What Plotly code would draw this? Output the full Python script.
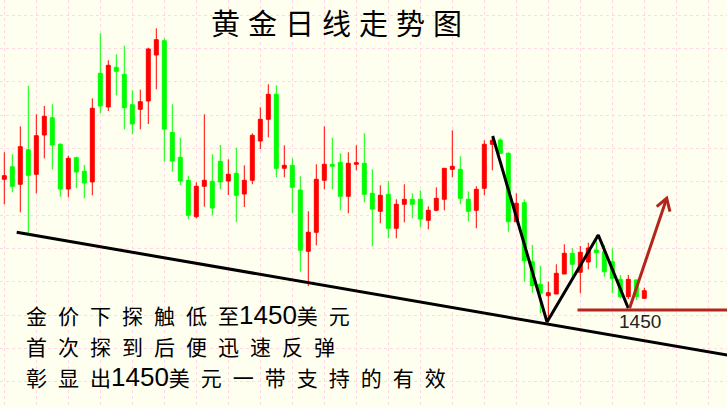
import plotly.graph_objects as go

# ---- candle data (price units), one candle per trading day ----
opens = [1580.7, 1593.3, 1575.7, 1610.3, 1585.7, 1625.0, 1642.3, 1615.7, 1571.0, 1602.3,
         1588.7, 1578.0, 1686.7, 1653.0, 1692.7, 1685.7, 1655.3, 1650.7, 1659.0, 1705.0,
         1719.3, 1627.7, 1602.7, 1579.7, 1543.3, 1573.7, 1578.7, 1598.7, 1579.0, 1586.7,
         1566.0, 1579.7, 1619.0, 1640.7, 1665.7, 1591.7, 1594.7, 1570.0, 1508.7, 1527.7,
         1579.7, 1595.7, 1597.7, 1563.7, 1595.7, 1596.7, 1566.7, 1548.7, 1565.7, 1531.7,
         1555.7, 1560.7, 1560.7, 1539.7, 1549.7, 1560.7, 1590.7, 1590.7, 1560.7, 1549.7,
         1571.7, 1615.7, 1620.0, 1606.7, 1538.3, 1557.3, 1498.3, 1475.7, 1464.3, 1466.0,
         1486.0, 1506.7, 1487.7, 1498.0, 1510.0, 1508.3, 1498.3, 1480.7, 1463.3, 1480.0,
         1461.7]
highs = [1607.7, 1605.7, 1633.7, 1674.3, 1645.7, 1654.0, 1655.7, 1616.7, 1604.3, 1603.3,
         1595.0, 1661.7, 1726.7, 1699.7, 1705.7, 1714.3, 1669.7, 1670.3, 1712.3, 1731.7,
         1721.7, 1655.7, 1622.3, 1584.3, 1577.7, 1645.7, 1605.7, 1615.0, 1600.7, 1612.3,
         1594.7, 1626.7, 1652.7, 1675.7, 1674.7, 1614.7, 1601.7, 1583.7, 1548.7, 1595.7,
         1633.7, 1622.3, 1606.7, 1607.7, 1614.7, 1626.7, 1590.7, 1574.7, 1578.7, 1560.7,
         1575.7, 1566.7, 1569.7, 1553.7, 1572.7, 1591.7, 1629.7, 1603.7, 1568.7, 1573.7,
         1619.7, 1622.7, 1621.7, 1607.7, 1566.7, 1560.7, 1515.0, 1494.3, 1478.3, 1495.7,
         1515.7, 1511.7, 1514.0, 1517.3, 1525.0, 1515.0, 1511.7, 1485.0, 1485.0, 1480.7,
         1472.3]
lows = [1555.7, 1567.7, 1547.7, 1526.7, 1566.7, 1601.7, 1590.7, 1563.3, 1562.7, 1571.7,
        1561.7, 1564.7, 1646.7, 1649.0, 1664.7, 1630.7, 1626.0, 1630.7, 1636.0, 1670.7,
        1598.3, 1588.3, 1575.0, 1540.7, 1541.7, 1553.3, 1544.7, 1571.0, 1565.0, 1538.0,
        1553.0, 1575.7, 1611.0, 1622.7, 1582.7, 1582.7, 1546.7, 1488.3, 1474.0, 1514.7,
        1570.7, 1570.7, 1549.7, 1546.7, 1589.7, 1557.7, 1513.7, 1536.7, 1521.7, 1521.7,
        1537.7, 1541.7, 1532.7, 1530.7, 1548.7, 1549.7, 1582.7, 1555.7, 1538.7, 1531.7,
        1564.7, 1589.7, 1606.0, 1528.3, 1538.3, 1478.3, 1467.3, 1446.7, 1441.7, 1466.7,
        1486.7, 1483.3, 1466.7, 1490.7, 1491.7, 1483.3, 1466.7, 1461.7, 1461.0, 1460.0,
        1461.0]
closes = [1584.3, 1573.7, 1613.3, 1584.7, 1624.3, 1643.7, 1615.0, 1571.0, 1601.7, 1588.0,
          1577.0, 1651.7, 1654.0, 1694.7, 1688.7, 1652.3, 1636.0, 1658.3, 1711.0, 1720.3,
          1631.0, 1599.0, 1579.0, 1544.7, 1573.7, 1579.7, 1552.0, 1578.0, 1585.7, 1564.7,
          1579.7, 1624.7, 1640.7, 1665.7, 1591.7, 1594.7, 1572.7, 1509.7, 1527.7, 1580.7,
          1595.7, 1593.7, 1563.7, 1596.7, 1597.3, 1565.7, 1551.0, 1564.7, 1531.7, 1555.7,
          1560.7, 1555.7, 1541.0, 1549.7, 1561.7, 1591.7, 1593.7, 1561.7, 1548.7, 1570.7,
          1615.7, 1619.7, 1606.7, 1538.3, 1556.7, 1499.3, 1474.3, 1466.7, 1467.3, 1486.7,
          1506.7, 1495.7, 1507.7, 1512.0, 1507.3, 1488.3, 1481.7, 1463.3, 1480.7, 1463.3,
          1469.3]
days = list(range(len(opens)))

# ---- hand-drawn analysis lines (day index, price) ----
trend_x = [1.55, 90.5]
trend_y = [1527.7, 1404.8]
zigzag_x = [61.05, 67.84, 74.25, 78.0]
zigzag_y = [1624.0, 1438.0, 1525.0, 1451.7]
support_x = [71.65, 91.0]
support_y = [1450.0, 1450.0]
arrow_x = [78.16, 82.8]
arrow_y = [1451.7, 1561.7]
arrowhead_x = [81.55, 82.8, 83.21]
arrowhead_y = [1553.3, 1561.7, 1548.3]
support_label = "1450"
support_label_pos = (79.46, 1438.3)

title_text = "黄金日线走势图"
# each note line: (spaced CJK, plain CJK, digits, spaced CJK, plain CJK)
note_lines = [
    ("金价下探触低", "至", "1450", "美", "元"),
    ("首次探到后便迅速反", "弹", "", "", ""),
    ("彰显", "出", "1450", "美元一带支持的有", "效"),
]
note_y = [0.2279, 0.152, 0.0760]

BG = "#FFFFF0"
GRID = "#FFD9E4"
UP = "#FF0000"
DOWN = "#00FF00"
DARKRED = "#B3261E"

fig = go.Figure()
fig.add_trace(go.Candlestick(
    x=days, open=opens, high=highs, low=lows, close=closes,
    increasing=dict(line=dict(color=UP, width=1), fillcolor=UP),
    decreasing=dict(line=dict(color=DOWN, width=1), fillcolor=DOWN),
    showlegend=False, hoverinfo="skip",
))
for xs, ys, col in [(trend_x, trend_y, "black"), (zigzag_x, zigzag_y, "black"),
                    (support_x, support_y, DARKRED), (arrow_x, arrow_y, DARKRED),
                    (arrowhead_x, arrowhead_y, DARKRED)]:
    fig.add_trace(go.Scatter(x=xs, y=ys, mode="lines", line=dict(color=col, width=3),
                             showlegend=False, hoverinfo="skip"))

CJK = "Noto Sans CJK SC"
SP = '<span style="letter-spacing:11px">{}</span>'
DIG = '<span style="font-family:Liberation Sans;font-size:26px">{}</span>'


def build_note(parts):
    spaced1, plain1, digits, spaced2, plain2 = parts
    s = ""
    if spaced1:
        s += SP.format(spaced1)
    s += plain1
    if digits:
        s += DIG.format(digits)
    if spaced2:
        s += SP.format(spaced2)
    s += plain2
    return s


annotations = [
    dict(text='<span style="letter-spacing:8px">' + title_text + '</span>',
         x=0.469, y=0.946, xref="paper", yref="paper", xanchor="center", yanchor="middle",
         showarrow=False, font=dict(family=CJK, size=29, color="black")),
    dict(text=support_label, x=support_label_pos[0], y=support_label_pos[1], xref="x", yref="y",
         xanchor="center", yanchor="middle", showarrow=False,
         font=dict(family="Liberation Sans", size=19, color="#222222")),
]
for parts, yy in zip(note_lines, note_y):
    annotations.append(dict(text=build_note(parts), x=0.0345, y=yy, xref="paper", yref="paper",
                            xanchor="left", yanchor="middle", showarrow=False, align="left",
                            borderpad=0,
                            font=dict(family=CJK, size=21, color="black")))

fig.update_layout(
    width=727, height=408,
    margin=dict(l=0, r=0, t=0, b=0),
    paper_bgcolor=BG, plot_bgcolor=BG,
    annotations=annotations,
    xaxis=dict(range=[-0.5375, 90.3375], showgrid=True, gridcolor=GRID, griddash="3px,3px",
               gridwidth=1, tick0=0, dtick=4, showticklabels=False, zeroline=False,
               showline=False, ticks="", rangeslider=dict(visible=False), fixedrange=True),
    yaxis=dict(range=[1352, 1760], showgrid=True, gridcolor=GRID, griddash="3px,3px",
               gridwidth=1, tick0=1745, dtick=100 / 3, showticklabels=False, zeroline=False,
               showline=False, ticks="", fixedrange=True),
)

fig.write_html("out.html", config=dict(displayModeBar=False),
               post_script="document.body.style.margin='0';document.body.style.overflow='hidden';")
